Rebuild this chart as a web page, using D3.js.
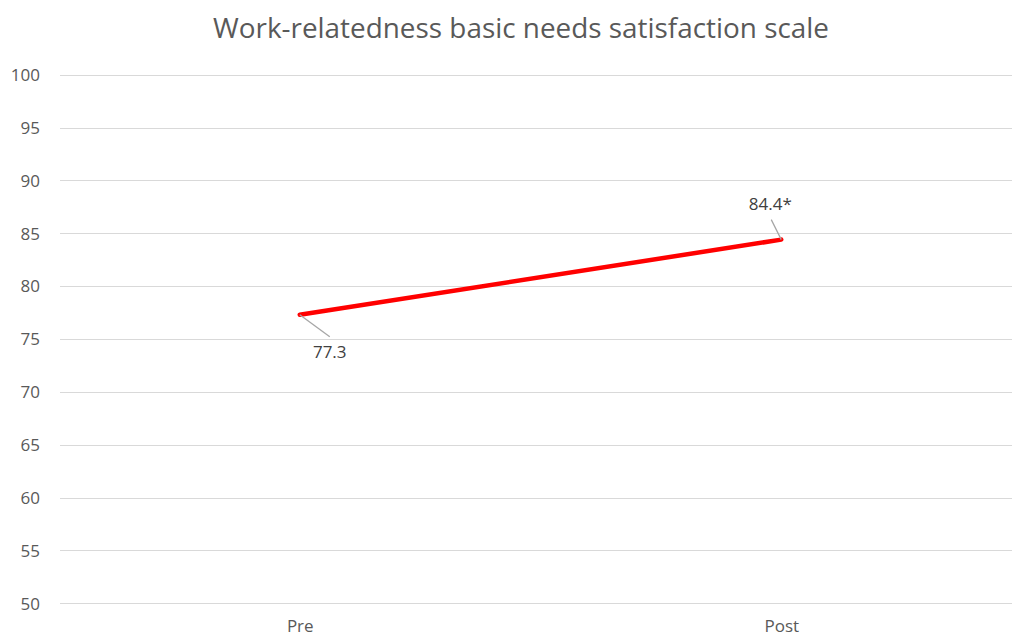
<!DOCTYPE html>
<html>
<head>
<meta charset="utf-8">
<script src="https://cdn.jsdelivr.net/npm/d3@7"></script>
<style>
  html, body { margin: 0; padding: 0; background: #fff; }
  svg { display: block; font-family: "Open Sans", sans-serif; }
</style>
</head>
<body>
<svg id="chart" width="1012" height="637"></svg>
<script>
(() => {

// chart data
const title = 'Work-relatedness basic needs satisfaction scale';
const categories = ['Pre', 'Post'];
const values = [77.3, 84.4];
const value_labels = ['77.3', '84.4*'];
const y_ticks = [50, 55, 60, 65, 70, 75, 80, 85, 90, 95, 100];

// layout
const width = 1012;
const height = 637;
const plot_left = 59;
const plot_right = 1022;
const plot_top = 74.7;
const plot_bottom = 603.3;
const text_color = '#595959';

let svg = d3.select('#chart');

// scales
let x_scale = d3.scalePoint()
    .domain(categories)
    .range([plot_left, plot_right])
    .padding(0.5);

let y_scale = d3.scaleLinear()
    .domain([50, 100])
    .range([plot_bottom, plot_top]);

// title
svg.append('text')
    .attr('x', 521)
    .attr('y', 38)
    .attr('text-anchor', 'middle')
    .attr('textLength', 616)
    .attr('lengthAdjust', 'spacingAndGlyphs')
    .style('font-size', '27px')
    .style('fill', text_color)
    .text(title);

// gridlines
svg.append('g')
    .selectAll('line')
    .data(y_ticks)
    .enter()
        .append('line')
        .attr('x1', 60)
        .attr('x2', width)
        .attr('y1', (d) => Math.round(y_scale(d)) + 0.5)
        .attr('y2', (d) => Math.round(y_scale(d)) + 0.5)
        .attr('stroke', '#d9d9d9')
        .attr('stroke-width', 1.2);

// y axis labels
let y_axis = d3.axisLeft(y_scale)
    .tickValues(y_ticks)
    .tickSize(0)
    .tickPadding(0);

svg.append('g')
    .attr('transform', 'translate(40, 0)')
    .call(y_axis)
    .call((g) => g.select('.domain').remove())
    .selectAll('text')
    .attr('dy', '0.34em')
    .style('font-family', '"Open Sans", sans-serif')
    .style('font-size', '17px')
    .style('fill', text_color);

// x axis labels
let x_axis = d3.axisBottom(x_scale)
    .tickSize(0)
    .tickPadding(0);

svg.append('g')
    .attr('transform', 'translate(0, 617)')
    .call(x_axis)
    .call((g) => g.select('.domain').remove())
    .selectAll('text')
    .attr('dy', '0.9em')
    .style('font-family', '"Open Sans", sans-serif')
    .style('font-size', '17px')
    .style('fill', text_color);

// data line
let points = categories.map((c, i) => ({cat: c, value: values[i], label: value_labels[i]}));

let line = d3.line()
    .x((d) => x_scale(d.cat))
    .y((d) => y_scale(d.value));

svg.append('path')
    .datum(points)
    .attr('d', line)
    .attr('fill', 'none')
    .attr('stroke', '#ff0000')
    .attr('stroke-width', 4.5)
    .attr('stroke-linecap', 'round');

// data labels with leader lines (offsets relative to the point)
const label_offsets = [
    {lx: 30, ly: 22, tx: 30, ty: 43},
    {lx: -10, ly: -20, tx: -11, ty: -30}
];

let labels = svg.append('g')
    .selectAll('g')
    .data(points)
    .enter()
        .append('g')
        .attr('transform', (d) => `translate(${x_scale(d.cat)}, ${y_scale(d.value)})`);

labels.append('line')
    .attr('x1', 0)
    .attr('y1', 0)
    .attr('x2', (d, i) => label_offsets[i].lx)
    .attr('y2', (d, i) => label_offsets[i].ly)
    .attr('stroke', '#a6a6a6')
    .attr('stroke-width', 1.3);

labels.append('text')
    .attr('x', (d, i) => label_offsets[i].tx)
    .attr('y', (d, i) => label_offsets[i].ty)
    .attr('text-anchor', 'middle')
    .style('font-size', '17px')
    .style('fill', '#404040')
    .text((d) => d.label);

})();
</script>
</body>
</html>
